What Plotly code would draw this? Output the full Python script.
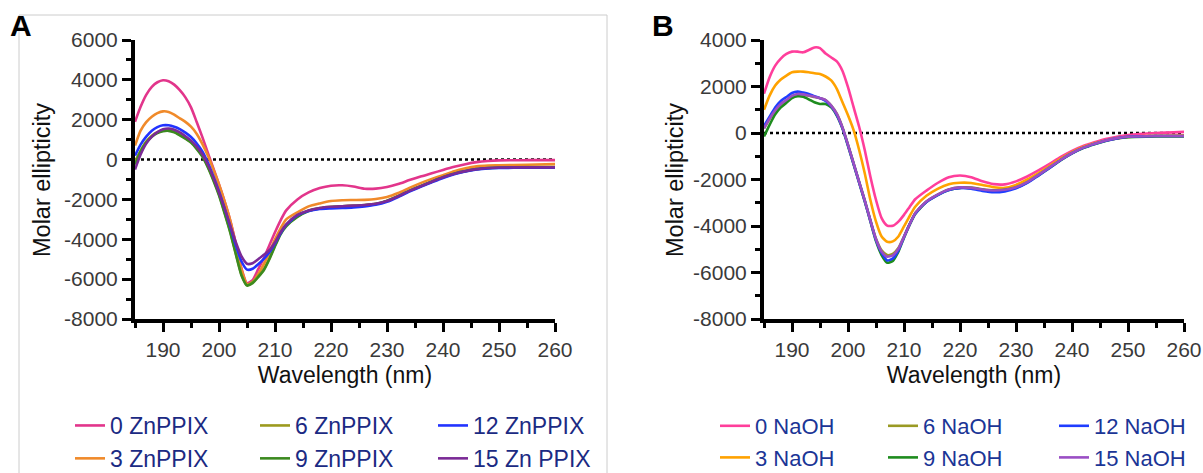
import plotly.graph_objects as go

# ---------------- Panel A data (ZnPPIX) ----------------
wl_a = list(range(185, 213)) + list(range(214, 251, 2)) + [255, 260]

a_0 = [1900, 2650, 3250, 3650, 3880, 3980, 3930, 3760, 3480, 3120, 2620, 1900, 1150, 350, -450, -1250,
       -2100, -3050, -4200, -5450, -6200, -6050, -5500, -4950, -4300, -3650, -3050, -2550,
       -2000, -1650, -1430, -1310, -1290, -1350, -1460, -1460, -1380, -1230, -1030, -850, -690, -520,
       -360, -230, -130, -70, -40, -30, -30]
a_3 = [700, 1450, 1880, 2150, 2330, 2420, 2390, 2250, 2070, 1890, 1650, 1300, 800, 200, -500, -1250,
       -2100, -3050, -4250, -5500, -6250, -6150, -5750, -5250, -4650, -4000, -3450, -3000,
       -2650, -2350, -2200, -2080, -2040, -2030, -2020, -1980, -1880, -1680, -1420, -1180, -970, -780,
       -580, -440, -340, -300, -290, -260, -230]
a_6 = [-100, 450, 900, 1200, 1380, 1460, 1480, 1400, 1250, 1080, 880, 570, 200, -350, -1000, -1750,
       -2650, -3600, -4700, -5750, -6300, -6150, -5850, -5500, -4950, -4300, -3700, -3300,
       -2850, -2560, -2430, -2370, -2340, -2310, -2280, -2220, -2060, -1830, -1560, -1330, -1100, -880,
       -700, -570, -470, -420, -400, -380, -370]
a_9 = [-250, 400, 850, 1150, 1330, 1420, 1440, 1370, 1220, 1050, 850, 540, 160, -380, -1050, -1800,
       -2700, -3650, -4750, -5800, -6320, -6200, -5900, -5550, -5000, -4350, -3750, -3350,
       -2880, -2580, -2450, -2390, -2360, -2340, -2300, -2230, -2080, -1840, -1570, -1340, -1110, -890,
       -710, -580, -480, -430, -410, -400, -400]
a_12 = [200, 750, 1150, 1450, 1630, 1720, 1720, 1650, 1530, 1350, 1130, 820, 420, -150, -850, -1600,
        -2450, -3350, -4300, -5100, -5520, -5480, -5250, -4980, -4650, -4200, -3700, -3280,
        -2800, -2580, -2480, -2450, -2430, -2400, -2350, -2270, -2120, -1880, -1610, -1370, -1140, -920,
        -740, -600, -500, -440, -420, -410, -410]
a_15 = [-500, 250, 800, 1150, 1380, 1520, 1560, 1500, 1360, 1170, 950, 650, 280, -250, -900, -1650,
        -2450, -3300, -4150, -4850, -5230, -5200, -5000, -4780, -4550, -4150, -3650, -3250,
        -2780, -2550, -2430, -2370, -2340, -2310, -2280, -2220, -2080, -1840, -1570, -1340, -1110, -890,
        -710, -580, -480, -420, -400, -390, -390]

names_a = ["0 ZnPPIX", "3 ZnPPIX", "6 ZnPPIX", "9 ZnPPIX", "12 ZnPPIX", "15 Zn PPIX"]
series_a = [a_0, a_3, a_6, a_9, a_12, a_15]

# ---------------- Panel B data (NaOH) ----------------
wl_b = list(range(185, 213)) + list(range(214, 251, 2)) + [255, 260]

b_0 = [1690, 2400, 2900, 3200, 3400, 3500, 3500, 3470, 3570, 3680, 3650, 3420, 3250, 3080, 2680, 1970,
       1110, 260, -740, -1880, -2880, -3660, -3980, -3990, -3810, -3520, -3180, -2850,
       -2480, -2150, -1900, -1830, -1900, -2080, -2200, -2210, -2080, -1870, -1610, -1330, -1030, -770,
       -560, -400, -260, -160, -90, 0, 50]
b_3 = [1000, 1610, 2040, 2300, 2470, 2610, 2640, 2640, 2610, 2570, 2540, 2430, 2260, 1900, 1330, 760,
       120, -740, -1740, -2880, -3810, -4450, -4680, -4660, -4450, -4020, -3580, -3170,
       -2700, -2400, -2200, -2140, -2150, -2240, -2330, -2360, -2230, -2000, -1720, -1420, -1100, -820,
       -600, -440, -320, -230, -170, -120, -100]
b_6 = [200, 600, 950, 1220, 1400, 1580, 1650, 1640, 1600, 1550, 1500, 1420, 1180, 830, 250, -500,
       -1300, -2100, -2900, -3750, -4550, -5050, -5250, -5200, -4950, -4450, -3920, -3450,
       -2950, -2650, -2430, -2340, -2350, -2420, -2460, -2430, -2330, -2110, -1800, -1480, -1150, -860,
       -630, -460, -320, -220, -160, -130, -130]
b_9 = [-150, 350, 800, 1100, 1300, 1500, 1580, 1560, 1450, 1320, 1250, 1250, 1100, 750, 200, -550,
       -1350, -2150, -2950, -3800, -4650, -5250, -5580, -5500, -5100, -4500, -3950, -3480,
       -2970, -2670, -2450, -2360, -2370, -2440, -2480, -2450, -2350, -2130, -1820, -1500, -1170, -880,
       -650, -480, -340, -240, -180, -150, -150]
b_12 = [300, 700, 1100, 1380, 1550, 1720, 1780, 1740, 1680, 1580, 1500, 1380, 1150, 780, 220, -530,
        -1330, -2130, -2930, -3780, -4600, -5150, -5480, -5400, -5050, -4480, -3930, -3470,
        -2970, -2670, -2450, -2370, -2400, -2490, -2550, -2510, -2380, -2150, -1830, -1500, -1160, -870,
        -640, -470, -330, -230, -160, -130, -130]
b_15 = [200, 620, 980, 1250, 1420, 1600, 1680, 1660, 1610, 1560, 1500, 1420, 1180, 820, 240, -510,
        -1310, -2110, -2910, -3760, -4570, -5100, -5320, -5260, -4980, -4460, -3930, -3450,
        -2950, -2650, -2430, -2340, -2360, -2430, -2470, -2440, -2330, -2110, -1800, -1480, -1150, -860,
        -630, -460, -320, -220, -160, -130, -130]

names_b = ["0 NaOH", "3 NaOH", "6 NaOH", "9 NaOH", "12 NaOH", "15 NaOH"]
series_b = [b_0, b_3, b_6, b_9, b_12, b_15]

colors_a = ["#e2358b", "#f08a2a", "#9c9a1e", "#3b8a1f", "#2233ff", "#7b2a96"]
colors_b = ["#ff3e9b", "#ffa200", "#9a9a24", "#1e8c1e", "#1f3dff", "#9a4ec4"]

# tick labels
x_ticks = [190, 200, 210, 220, 230, 240, 250, 260]
y_ticks_a = [-8000, -6000, -4000, -2000, 0, 2000, 4000, 6000]
y_ticks_b = [-8000, -6000, -4000, -2000, 0, 2000, 4000]

W, H = 1203, 473
FONT = "Liberation Sans, Arial, Helvetica, sans-serif"

fig = go.Figure()

leg_a = ["legend", "legend", "legend2", "legend2", "legend3", "legend3"]
leg_b = ["legend4", "legend4", "legend5", "legend5", "legend6", "legend6"]

for i in range(6):
    fig.add_trace(go.Scatter(
        x=wl_a, y=series_a[i], name=names_a[i], mode="lines",
        line=dict(color=colors_a[i], width=2.6, shape="spline", smoothing=0.6),
        xaxis="x", yaxis="y", legend=leg_a[i]))
for i in range(6):
    fig.add_trace(go.Scatter(
        x=wl_b, y=series_b[i], name=names_b[i], mode="lines",
        line=dict(color=colors_b[i], width=2.6, shape="spline", smoothing=0.6),
        xaxis="x2", yaxis="y2", legend=leg_b[i]))


def xax(domain, anchor):
    return dict(domain=domain, anchor=anchor, range=[185, 260],
                tickmode="array", tickvals=x_ticks, ticktext=[str(v) for v in x_ticks],
                showline=True, linewidth=4, linecolor="black", showgrid=False, zeroline=False,
                ticks="outside", ticklen=9, tickwidth=3, tickcolor="black",
                minor=dict(dtick=5, tick0=185, ticks="outside", ticklen=5, tickwidth=3,
                           tickcolor="black", showgrid=False),
                tickfont=dict(family=FONT, size=21, color="#3a3a3a"),
                title=dict(text="Wavelength (nm)", font=dict(family=FONT, size=23, color="#111"), standoff=8))


def yax(domain, anchor, rng, ticks):
    return dict(domain=domain, anchor=anchor, range=rng,
                tickmode="array", tickvals=ticks, ticktext=[str(v) for v in ticks],
                showline=True, linewidth=4, linecolor="black", showgrid=False, zeroline=False,
                ticks="outside", ticklen=9, tickwidth=3, tickcolor="black",
                minor=dict(dtick=1000, tick0=0, ticks="outside", ticklen=5, tickwidth=3,
                           tickcolor="black", showgrid=False),
                tickfont=dict(family=FONT, size=21, color="#3a3a3a"))


ydom = [1 - 319 / H, 1 - 40 / H]


def legend_at(xpx, ypx, size, color):
    return dict(orientation="v", xref="container", yref="container",
                x=xpx / W, y=1 - ypx / H, xanchor="left", yanchor="top",
                bgcolor="rgba(0,0,0,0)", traceorder="normal", itemwidth=30, tracegroupgap=0,
                font=dict(family=FONT, size=size, color=color))


fig.update_layout(
    width=W, height=H, margin=dict(l=0, r=0, t=0, b=0, autoexpand=False),
    paper_bgcolor="white", plot_bgcolor="white",
    font=dict(family=FONT),
    xaxis=xax([135 / W, 555 / W], "y"),
    yaxis=yax(ydom, "x", [-8000, 6000], y_ticks_a),
    xaxis2=xax([764 / W, 1184 / W], "y2"),
    yaxis2=yax(ydom, "x2", [-8000, 4000], y_ticks_b),
    legend=legend_at(70, 404, 23, "#1b2a83"),
    legend2=legend_at(255, 404, 23, "#1b2a83"),
    legend3=legend_at(433, 404, 23, "#1b2a83"),
    legend4=legend_at(715, 405, 22, "#1b3596"),
    legend5=legend_at(883, 405, 22, "#1b3596"),
    legend6=legend_at(1054, 405, 22, "#1b3596"),
    showlegend=True,
)

# y-axis titles (rotated text)
for xpx in (42, 675):
    fig.add_annotation(text="Molar ellipticity", xref="paper", yref="paper",
                       x=xpx / W, y=1 - 180 / H, textangle=-90, showarrow=False,
                       xanchor="center", yanchor="middle",
                       font=dict(family=FONT, size=23.5, color="#111"))

# dotted zero lines
for xr, yr in [("x", "y"), ("x2", "y2")]:
    fig.add_shape(type="line", xref=xr, yref=yr, x0=185, x1=260, y0=0, y1=0,
                  line=dict(color="black", width=2.5, dash="dot"), layer="below")

# light frame around panel A
fig.add_shape(type="rect", xref="paper", yref="paper", x0=19 / W, x1=607 / W, y0=-0.05, y1=1 - 15 / H,
              line=dict(color="#cccccc", width=1), layer="below")

# panel letters
fig.add_annotation(text="<b>A</b>", xref="paper", yref="paper", x=8 / W, y=1 - 26 / H,
                   xanchor="left", yanchor="middle", showarrow=False,
                   font=dict(family=FONT, size=30, color="black"))
fig.add_annotation(text="<b>B</b>", xref="paper", yref="paper", x=650 / W, y=1 - 26 / H,
                   xanchor="left", yanchor="middle", showarrow=False,
                   font=dict(family=FONT, size=30, color="black"))

fig.write_html("out.html", config={"displayModeBar": False},
               post_script="document.body.style.margin='0';document.body.style.overflow='hidden';")
